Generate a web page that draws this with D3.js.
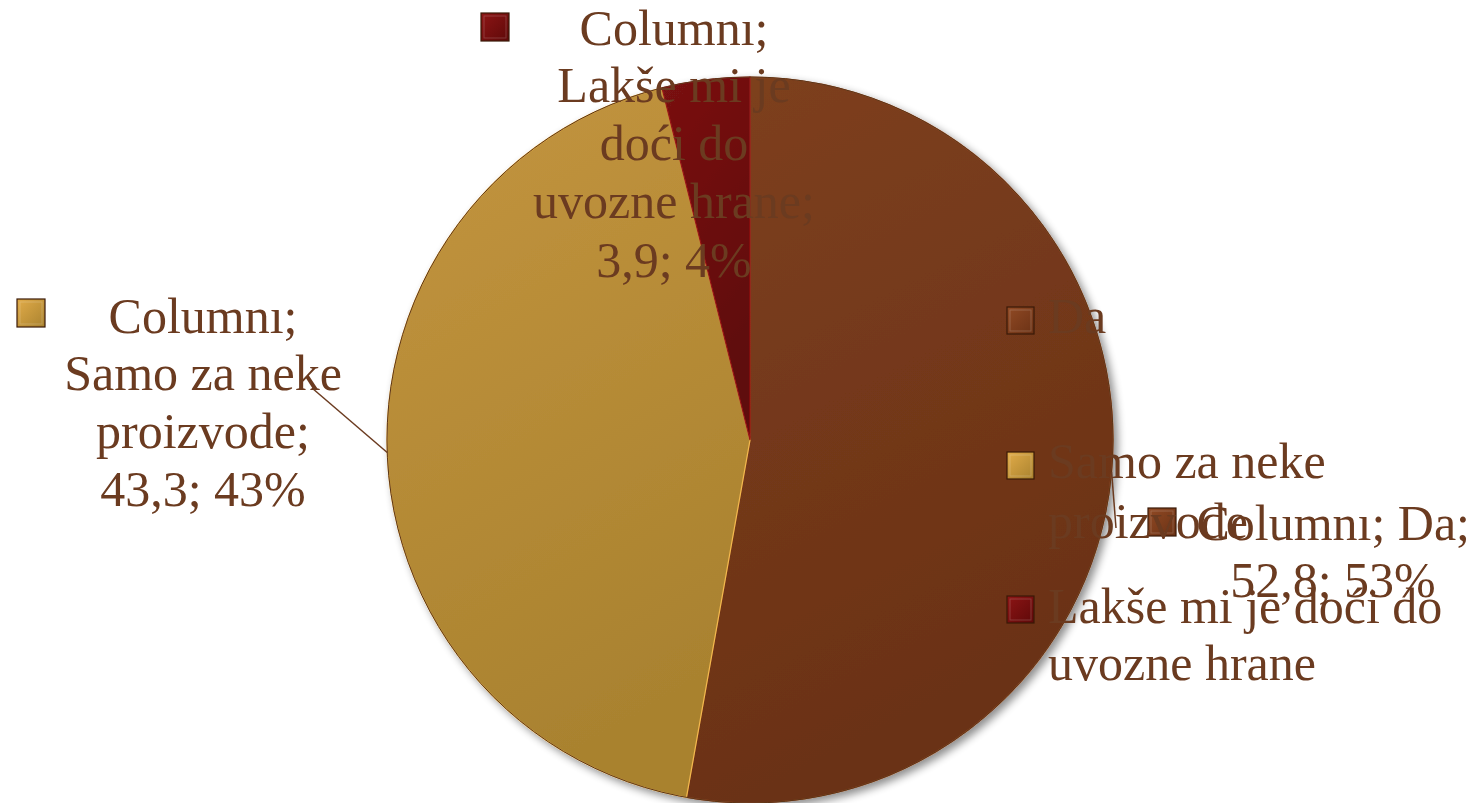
<!DOCTYPE html>
<html><head><meta charset="utf-8">
<script src="https://cdn.jsdelivr.net/npm/d3@7"></script>
<style>html,body{margin:0;padding:0;background:#fff;}svg{display:block;}</style>
</head><body>
<script>
const categories = ["Da", "Samo za neke proizvode", "Lakše mi je doći do uvozne hrane"];
const values = [52.8, 43.3, 3.9];
const percentLabels = ["53%", "43%", "4%"];
const valueLabels = ["52,8", "43,3", "3,9"];
const seriesName = "Columnı";
const legendLines = [["Da"], ["Samo za neke", "proizvode"], ["Lakše mi je doći do", "uvozne hrane"]];
const dataLabelLines = [
  ["Columnı; Da;", "52,8; 53%"],
  ["Columnı;", "Samo za neke", "proizvode;", "43,3; 43%"],
  ["Columnı;", "Lakše mi je", "doći do", "uvozne hrane;", "3,9; 4%"]
];
const colors = [["#7e401f", "#6a3115"], ["#c4953f", "#a9822f"], ["#7a1212", "#5e0909"]];
const textColor = "#6b3b20";

const W = 1480, H = 803;
const cx = 750, cy = 440, R = 363;
const svg = d3.select("body").append("svg").attr("width", W).attr("height", H);
const defs = svg.append("defs");
colors.forEach((c, i) => {
  const g = defs.append("linearGradient").attr("id", "g" + i).attr("x1", 0).attr("y1", 0).attr("x2", 0.3).attr("y2", 1);
  g.append("stop").attr("offset", "0%").attr("stop-color", c[0]);
  g.append("stop").attr("offset", "100%").attr("stop-color", c[1]);
  const b = defs.append("linearGradient").attr("id", "b" + i).attr("x1", 0).attr("y1", 0).attr("x2", 1).attr("y2", 1);
  b.append("stop").attr("offset", "0%").attr("stop-color", d3.color(c[0]).brighter(0.4));
  b.append("stop").attr("offset", "100%").attr("stop-color", c[1]);
});
const f = defs.append("filter").attr("id", "sh").attr("x", "-10%").attr("y", "-10%").attr("width", "125%").attr("height", "125%");
f.append("feGaussianBlur").attr("in", "SourceAlpha").attr("stdDeviation", 4).attr("result", "bl");
f.append("feOffset").attr("in", "bl").attr("dx", 4).attr("dy", 4).attr("result", "of");
f.append("feComponentTransfer").attr("in", "of").attr("result", "of2").append("feFuncA").attr("type", "linear").attr("slope", 0.45);
const fm = f.append("feMerge");
fm.append("feMergeNode").attr("in", "of2");
fm.append("feMergeNode").attr("in", "SourceGraphic");

const pie = d3.pie().sort(null).value(d => d)(values);
const arc = d3.arc().innerRadius(0).outerRadius(R);
const pieG = svg.append("g").attr("transform", `translate(${cx},${cy})`).attr("filter", "url(#sh)");
pieG.selectAll("path").data(pie).join("path")
  .attr("d", arc)
  .attr("fill", (d, i) => `url(#g${i})`)
  .attr("stroke", (d, i) => d3.color(colors[i][0]).brighter(0.6))
  .attr("stroke-width", 1.2);
pieG.append("circle").attr("r", R).attr("fill", "none").attr("stroke", "#5a3418").attr("stroke-width", 1);

const font = "'Liberation Serif', 'Times New Roman', serif";
const fs = 50;

function box(x, y, i, s) {
  svg.append("rect").attr("x", x).attr("y", y).attr("width", s).attr("height", s)
    .attr("fill", `url(#b${i})`).attr("stroke", "#3a1a08").attr("stroke-width", 1.2);
  svg.append("rect").attr("x", x + 3).attr("y", y + 3).attr("width", s - 6).attr("height", s - 6)
    .attr("fill", "none").attr("stroke", "rgba(255,255,255,0.18)").attr("stroke-width", 1);
}

// leader lines
const outer = d3.arc().innerRadius(R).outerRadius(R);
const leaderEnds = [[1116, 528], [312, 388]];
[0, 1].forEach(i => {
  const p = outer.centroid(pie[i]);
  svg.append("line").attr("x1", cx + p[0]).attr("y1", cy + p[1])
    .attr("x2", leaderEnds[i][0]).attr("y2", leaderEnds[i][1])
    .attr("stroke", textColor).attr("stroke-width", 1.5);
});

// data labels
const labelPos = [
  {box: [1148, 508], anchor: "end", xs: [1470, 1333], ys: [540, 597], aligns: ["end", "middle"]},
  {box: [17, 299], xs: [203, 203, 203, 203], ys: [333, 390, 448, 506]},
  {box: [481, 13], xs: [674, 674, 674, 674, 674], ys: [45, 102, 160, 218, 277]}
];
labelPos.forEach((lp, i) => {
  box(lp.box[0], lp.box[1], i, 28);
  dataLabelLines[i].forEach((t, j) => {
    svg.append("text").attr("x", lp.xs[j]).attr("y", lp.ys[j])
      .attr("text-anchor", lp.aligns ? lp.aligns[j] : "middle")
      .attr("font-family", font).attr("font-size", fs).attr("fill", textColor).text(t);
  });
});

// legend
const legendY = [[307, [333]], [452, [478, 538]], [596, [623, 680]]];
categories.forEach((c, i) => {
  box(1007, legendY[i][0], i, 27);
  legendLines[i].forEach((t, j) => {
    svg.append("text").attr("x", 1048).attr("y", legendY[i][1][j])
      .attr("font-family", font).attr("font-size", fs).attr("fill", textColor).text(t);
  });
});
</script>
</body></html>
